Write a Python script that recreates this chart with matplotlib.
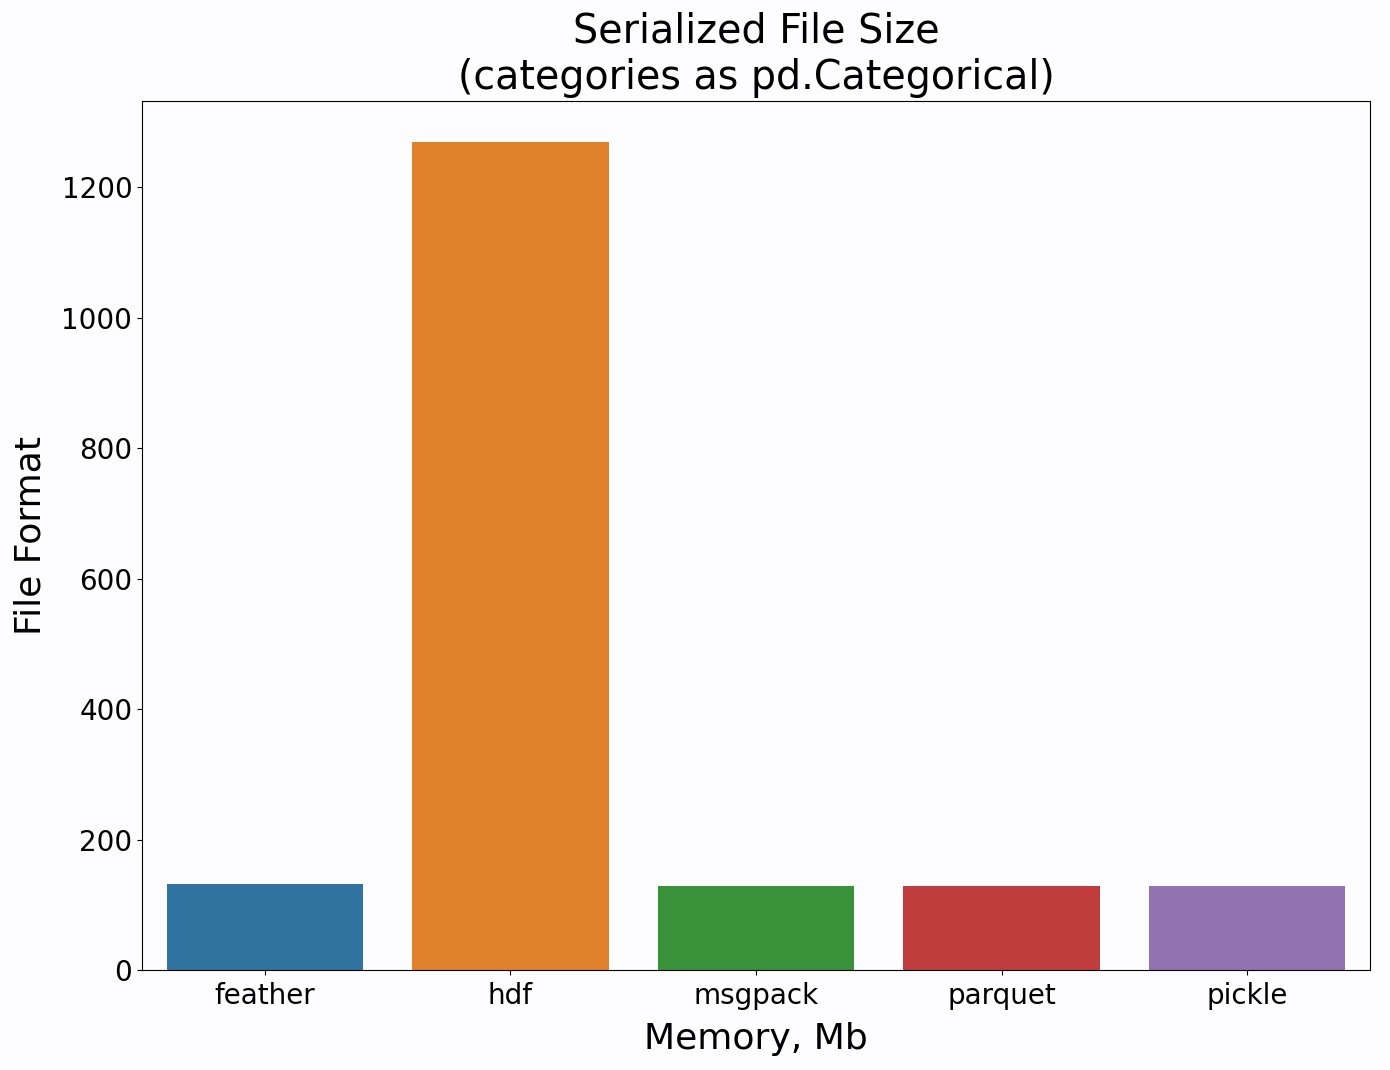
import matplotlib
matplotlib.use("Agg")
import matplotlib.pyplot as plt
import seaborn as sns

# ── Data ──────────────────────────────────────────────────────────────────────
formats = ["feather", "hdf", "msgpack", "parquet", "pickle"]
sizes_mb = [131.8, 1269.0, 129.0, 129.0, 129.0]

BG = "#FDFCFE"

# ── Figure ────────────────────────────────────────────────────────────────────
fig = plt.figure(figsize=(13.9, 10.7), dpi=100)
fig.patch.set_facecolor(BG)
ax = fig.add_axes([142 / 1390, 1 - 970 / 1070, (1370 - 142) / 1390, (970 - 101) / 1070])
ax.set_facecolor(BG)

sns.barplot(x=formats, y=sizes_mb, hue=formats, palette="tab10",
            legend=False, ax=ax)

ax.set_title("Serialized File Size\n(categories as pd.Categorical)",
             fontsize=28.5, pad=9)
ax.set_xlabel("Memory, Mb", fontsize=26, labelpad=9)
ax.set_ylabel("File Format", fontsize=26, labelpad=10)
ax.tick_params(axis="both", labelsize=20)
ax.tick_params(axis="x", pad=5)

plt.savefig("out.png", dpi=100, facecolor=BG)
